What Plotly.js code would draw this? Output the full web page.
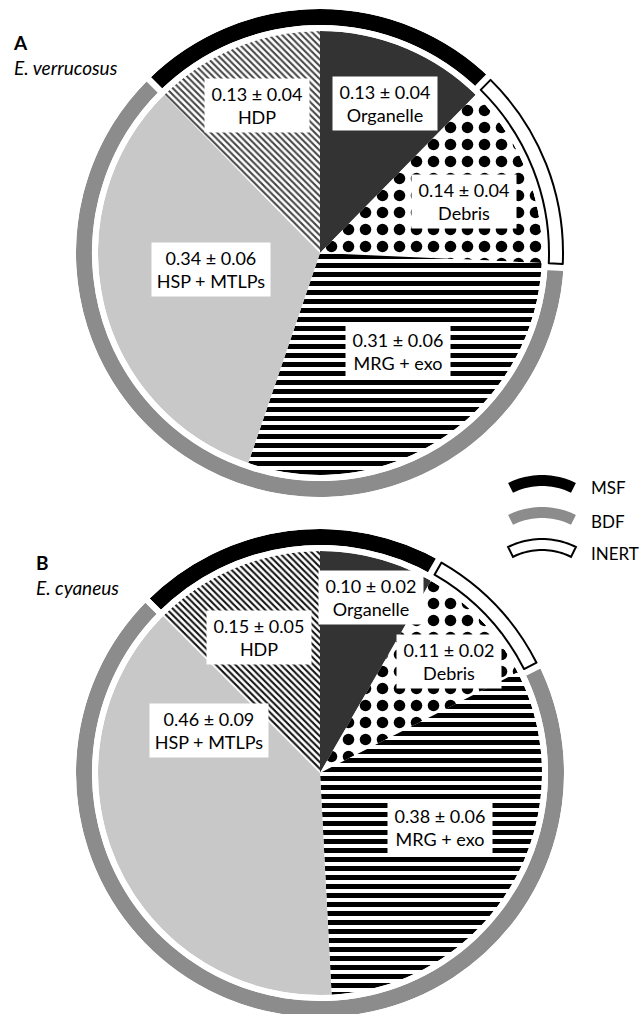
<!DOCTYPE html>
<html>
<head>
<meta charset="utf-8">
<script src="https://cdn.plot.ly/plotly-3.0.1.min.js"></script>
<style>
html, body { margin: 0; padding: 0; background: #fff; overflow: hidden; }
</style>
</head>
<body>
<div id="chart" style="width:641px;height:1040px"></div>
<script>
// ---------------- data ----------------
const categories = ['Organelle', 'Debris', 'MRG + exo', 'HSP + MTLPs', 'HDP'];
const meansA = [0.13, 0.14, 0.31, 0.34, 0.13];
const errsA  = [0.04, 0.04, 0.06, 0.06, 0.04];
const meansB = [0.10, 0.11, 0.38, 0.46, 0.15];
const errsB  = [0.02, 0.02, 0.06, 0.09, 0.05];
const fractionOf = ['MSF', 'INERT', 'BDF', 'BDF', 'MSF'];
const legendNames = ['MSF', 'BDF', 'INERT'];
const panelLetters = ['A', 'B'];
const speciesNames = ['E. verrucosus', 'E. cyaneus'];

// ---------------- styling / layout ----------------
const W = 641, H = 1040;
const FONT = 'Lato, "Open Sans", sans-serif';
const sliceFill = ['#333333', '#ffffff', '#ffffff', '#c8c8c8', '#ffffff'];
const sliceShape = ['', '.', '-', '', '\\'];
const sliceSize = [8, 17, 9, 8, 4.6];
const sliceSolidity = [0.3, 0.36, 0.55, 0.3, 0.45];
const fracColor = {MSF: '#000000', INERT: '#ffffff', BDF: '#8c8c8c'};
const T = 'rgba(0,0,0,0)';

const R_PIE = 222, R_RING_OUT = 244, R_RING_IN = 228, GAP = 6, INERT_CUT = 14;

const panelGeom = [
  {cx: 320, cy: 253, hdpFg: '#444444',
   labelPos: [[385, 104], [464, 202], [398, 351], [211, 270], [257, 106]],
   labelW: [96, 96, 96, 110, 96],
   titlePos: [12, 55]},
  {cx: 320, cy: 773, hdpFg: '#111111',
   labelPos: [[371, 597], [449, 661], [440, 827], [209, 730], [259, 637]],
   labelW: [96, 96, 96, 110, 96],
   titlePos: [35, 575]}
];
const panelData = [
  {means: meansA, errs: errsA},
  {means: meansB, errs: errsB}
];

const fx = x => x / W;
const fy = y => 1 - y / H;
function domainFor(cx, cy, r) {
  return {x: [(cx - r) / W, (cx + r) / W], y: [1 - (cy + r) / H, 1 - (cy - r) / H]};
}

// contiguous fraction groups around the circle
function ringGroups(means) {
  const n = means.length;
  const total = means.reduce((a, b) => a + b, 0);
  let s = 0;
  while (s < n && fractionOf[(s - 1 + n) % n] === fractionOf[s]) s++;
  if (s === n) s = 0;
  let before = 0;
  for (let i = 0; i < s; i++) before += means[i];
  const names = [], vals = [];
  for (let k = 0; k < n; k++) {
    const i = (s + k) % n;
    if (names.length && names[names.length - 1] === fractionOf[i]) vals[vals.length - 1] += means[i];
    else { names.push(fractionOf[i]); vals.push(means[i]); }
  }
  return {names, vals, rotation: 360 * before / total};
}

const traces = [];
const annotations = [];

panelData.forEach((pd, p) => {
  const g = panelGeom[p];
  const common = {type: 'pie', sort: false, direction: 'clockwise', textinfo: 'none',
                  hoverinfo: 'none', showlegend: false};
  // main pie
  traces.push(Object.assign({}, common, {
    labels: categories, values: pd.means, rotation: 0,
    domain: domainFor(g.cx, g.cy, R_PIE),
    marker: {
      colors: sliceFill,
      line: {width: 0},
      pattern: {
        shape: sliceShape,
        fgcolor: ['#000', '#000', '#000', '#000', g.hdpFg],
        bgcolor: sliceFill,
        size: sliceSize,
        solidity: sliceSolidity,
        fillmode: 'replace'
      }
    }
  }));
  // outer ring
  const rg = ringGroups(pd.means);
  const ringCommon = Object.assign({}, common, {labels: rg.names, values: rg.vals, rotation: rg.rotation});
  traces.push(Object.assign({}, ringCommon, {
    domain: domainFor(g.cx, g.cy, R_RING_OUT), hole: R_RING_IN / R_RING_OUT,
    marker: {colors: rg.names.map(n => fracColor[n]), line: {width: 0}}
  }));
  // gaps between ring segments and between ring and pie
  const gOut = R_RING_OUT + GAP / 2, gIn = R_PIE + GAP / 2;
  traces.push(Object.assign({}, ringCommon, {
    domain: domainFor(g.cx, g.cy, gOut), hole: gIn / gOut,
    marker: {colors: rg.names.map(() => T), line: {width: GAP, color: '#ffffff'}}
  }));
  // wider cut around the INERT segment
  const inIn = R_RING_IN + 1;
  traces.push(Object.assign({}, ringCommon, {
    domain: domainFor(g.cx, g.cy, R_RING_OUT), hole: inIn / R_RING_OUT,
    marker: {colors: rg.names.map(() => T),
             line: {width: rg.names.map(n => n === 'INERT' ? INERT_CUT : 0),
                    color: rg.names.map(n => n === 'INERT' ? '#ffffff' : T)}}
  }));
  // INERT outlined segment
  const oOut = R_RING_OUT - 1, oIn = R_RING_IN + 1;
  traces.push(Object.assign({}, ringCommon, {
    domain: domainFor(g.cx, g.cy, oOut), hole: oIn / oOut,
    marker: {colors: rg.names.map(n => n === 'INERT' ? '#ffffff' : T),
             line: {width: rg.names.map(n => n === 'INERT' ? 2 : 0),
                    color: rg.names.map(n => n === 'INERT' ? '#000000' : T)}}
  }));

  // slice labels
  categories.forEach((c, i) => {
    annotations.push({
      xref: 'paper', yref: 'paper', x: fx(g.labelPos[i][0]), y: fy(g.labelPos[i][1]),
      xanchor: 'center', yanchor: 'middle', showarrow: false,
      text: pd.means[i].toFixed(2) + ' ± ' + pd.errs[i].toFixed(2) + '<br>' + c,
      font: {family: FONT, size: 18, color: '#000'},
      bgcolor: '#ffffff', borderpad: 4, width: g.labelW[i], align: 'center'
    });
  });
  // panel title (letter + species)
  annotations.push({
    xref: 'paper', yref: 'paper', x: fx(g.titlePos[0]), y: fy(g.titlePos[1]),
    xanchor: 'left', yanchor: 'middle', showarrow: false, borderpad: 0, align: 'left',
    text: '<b>' + panelLetters[p] + '</b><br><i>' + speciesNames[p] + '</i>',
    font: {family: FONT, size: 19, color: '#000'}
  });
});

// legend glyphs (arc segments)
const legendGeom = {cx: 542, tops: [475, 507, 539], rOut: 76, rIn: 65, half: 26.5, textX: 590, textY: [487, 521, 553]};
function arcPath(cx, cy, rIn, rOut, halfDeg) {
  const pts = [];
  const N = 24;
  for (let k = 0; k <= N; k++) {
    const a = (-halfDeg + 2 * halfDeg * k / N) * Math.PI / 180;
    pts.push([cx + rOut * Math.sin(a), cy - rOut * Math.cos(a)]);
  }
  for (let k = N; k >= 0; k--) {
    const a = (-halfDeg + 2 * halfDeg * k / N) * Math.PI / 180;
    pts.push([cx + rIn * Math.sin(a), cy - rIn * Math.cos(a)]);
  }
  return 'M' + pts.map(q => fx(q[0]).toFixed(5) + ',' + fy(q[1]).toFixed(5)).join('L') + 'Z';
}
const shapes = legendNames.map((n, i) => {
  const cy = legendGeom.tops[i] + legendGeom.rOut;
  const isInert = n === 'INERT';
  return {
    type: 'path', xref: 'paper', yref: 'paper',
    path: arcPath(legendGeom.cx, cy, legendGeom.rIn, legendGeom.rOut, legendGeom.half),
    fillcolor: fracColor[n],
    line: isInert ? {color: '#000', width: 2} : {width: 0}
  };
});
legendNames.forEach((n, i) => {
  annotations.push({
    xref: 'paper', yref: 'paper', x: fx(legendGeom.textX), y: fy(legendGeom.textY[i]),
    xanchor: 'left', yanchor: 'middle', showarrow: false, borderpad: 0,
    text: n, font: {family: FONT, size: 17, color: '#000'}
  });
});

const layout = {
  width: W, height: H,
  margin: {l: 0, r: 0, t: 0, b: 0, pad: 0},
  paper_bgcolor: '#ffffff', plot_bgcolor: '#ffffff',
  showlegend: false,
  annotations: annotations,
  shapes: shapes
};

Plotly.newPlot('chart', traces, layout, {displayModeBar: false, staticPlot: true});
</script>
</body>
</html>
